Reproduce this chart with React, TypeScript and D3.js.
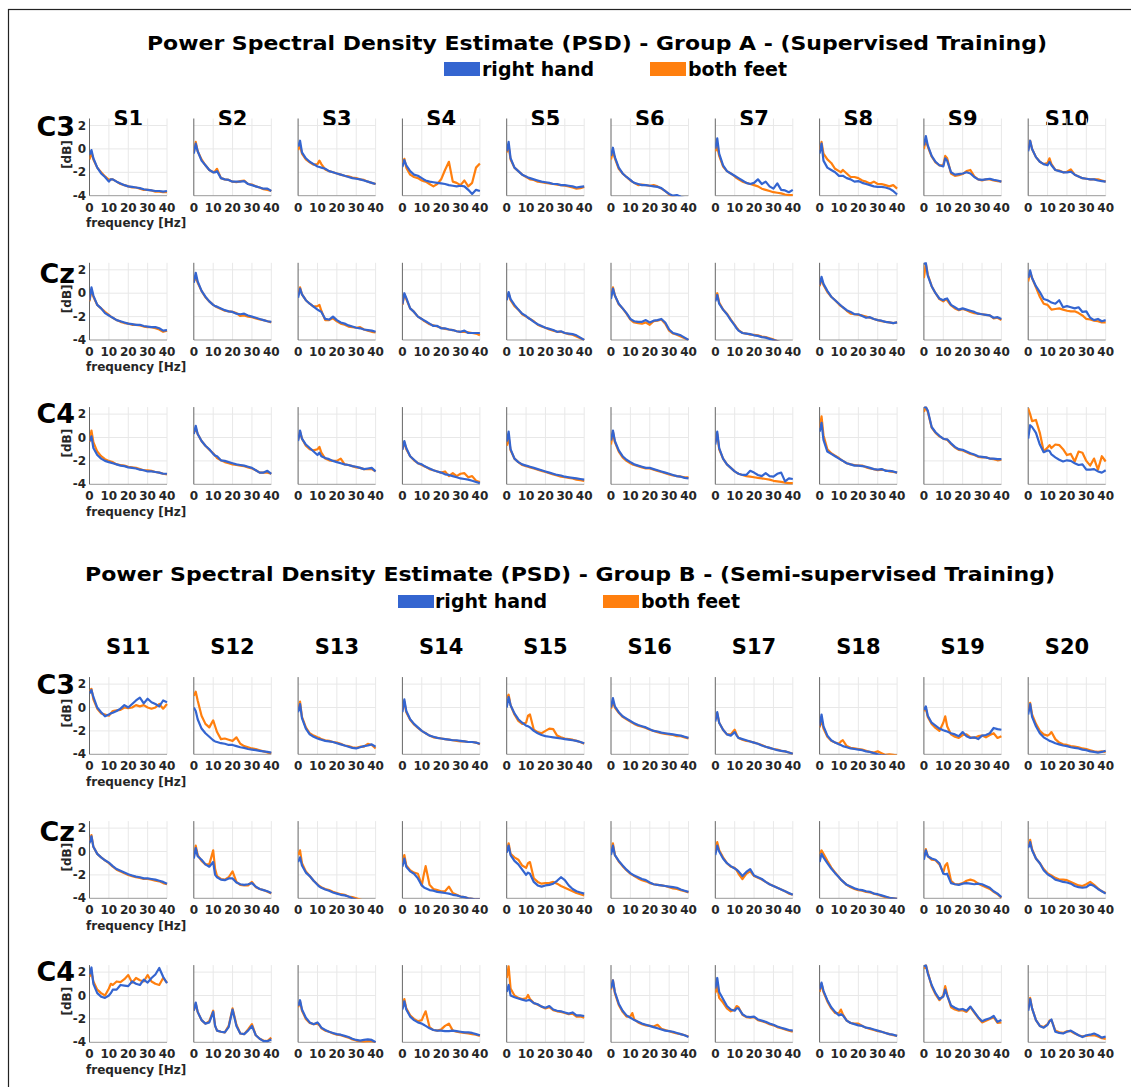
import React from 'react';
import * as d3 from 'd3';

// frequency grid (Hz) shared by every spectrum
const FREQS = [0, 1, 2, 4, 6, 8, 10, 11, 12, 14, 16, 18, 20, 22, 24, 26, 28, 30, 32, 34, 36, 38, 40];
const X_TICKS = [0, 10, 20, 30, 40];
const Y_TICKS = [-4, -2, 0, 2];
const CHANNELS = ['C3', 'Cz', 'C4'];
const SUBJECTS_A = ['S1', 'S2', 'S3', 'S4', 'S5', 'S6', 'S7', 'S8', 'S9', 'S10'];
const SUBJECTS_B = ['S11', 'S12', 'S13', 'S14', 'S15', 'S16', 'S17', 'S18', 'S19', 'S20'];
const CLASSES = ['right hand', 'both feet'];
const TITLE_A = 'Power Spectral Density Estimate (PSD) - Group A - (Supervised Training)';
const TITLE_B = 'Power Spectral Density Estimate (PSD) - Group B - (Semi-supervised Training)';

// ---- Group A ---- (one row per subject, values in dB at FREQS)
const A_C3_RH = [
  [-0.5, -0.1, -0.8, -1.6, -2.1, -2.4, -2.8, -2.6, -2.6, -2.8, -2.95, -3.1, -3.2, -3.25, -3.3, -3.35, -3.45, -3.5, -3.55, -3.6, -3.6, -3.65, -3.6],
  [-0.4, 0.45, -0.2, -1.0, -1.4, -1.8, -2.0, -2.0, -1.9, -2.5, -2.6, -2.65, -2.8, -2.8, -2.8, -2.75, -3.0, -3.1, -3.2, -3.3, -3.4, -3.4, -3.6],
  [0.2, 0.7, -0.3, -0.8, -1.1, -1.3, -1.5, -1.55, -1.6, -1.7, -1.9, -2.0, -2.1, -2.2, -2.3, -2.4, -2.5, -2.55, -2.6, -2.7, -2.8, -2.9, -3.0],
  [-1.55, -0.95, -1.4, -1.9, -2.2, -2.3, -2.5, -2.6, -2.7, -2.8, -2.85, -2.9, -2.95, -3.0, -3.1, -3.15, -3.2, -3.15, -3.2, -3.5, -3.85, -3.5, -3.6],
  [-0.2, 0.6, -0.8, -1.6, -1.9, -2.2, -2.35, -2.45, -2.5, -2.6, -2.7, -2.8, -2.85, -2.9, -3.0, -3.0, -3.1, -3.1, -3.15, -3.2, -3.3, -3.25, -3.2],
  [-0.6, 0.1, -0.7, -1.6, -2.1, -2.4, -2.65, -2.8, -2.9, -3.0, -3.1, -3.1, -3.15, -3.2, -3.25, -3.35, -3.6, -3.85, -4.0, -3.95, -4.1, -4.2, -4.2],
  [0.0, 0.9, -0.4, -1.4, -1.9, -2.1, -2.3, -2.4, -2.5, -2.7, -2.9, -3.0, -2.9, -2.6, -3.0, -2.8, -3.2, -3.4, -2.95, -3.5, -3.55, -3.7, -3.5],
  [-0.4, 0.45, -1.0, -1.6, -1.8, -2.0, -2.3, -2.3, -2.3, -2.5, -2.6, -2.8, -2.75, -2.9, -3.0, -3.1, -3.2, -3.25, -3.25, -3.3, -3.4, -3.6, -3.9],
  [0.3, 1.1, 0.3, -0.6, -1.1, -1.4, -1.5, -0.8, -1.0, -2.0, -2.2, -2.15, -2.1, -2.0, -2.1, -2.4, -2.6, -2.65, -2.6, -2.55, -2.65, -2.7, -2.8],
  [-0.2, 0.7, 0.0, -0.7, -1.1, -1.3, -1.4, -1.1, -1.4, -1.8, -1.9, -2.0, -2.0, -1.95, -2.2, -2.35, -2.5, -2.55, -2.6, -2.6, -2.7, -2.75, -2.8],
];
const A_C3_BF = [
  [-0.9, -0.3, -0.9, -1.6, -2.0, -2.35, -2.65, -2.6, -2.6, -2.8, -3.0, -3.1, -3.2, -3.3, -3.3, -3.4, -3.5, -3.5, -3.55, -3.65, -3.65, -3.7, -3.7],
  [-0.3, 0.6, -0.2, -0.9, -1.4, -1.8, -2.0, -1.9, -1.7, -2.5, -2.6, -2.65, -2.8, -2.85, -2.75, -2.7, -3.0, -3.05, -3.2, -3.3, -3.45, -3.5, -3.6],
  [-0.1, 0.3, -0.4, -0.9, -1.15, -1.35, -1.3, -1.0, -1.3, -1.75, -1.9, -2.0, -2.1, -2.2, -2.3, -2.35, -2.45, -2.5, -2.6, -2.65, -2.8, -2.9, -3.0],
  [-1.2, -0.85, -1.6, -2.2, -2.4, -2.5, -2.7, -2.75, -2.8, -3.0, -3.2, -3.0, -2.6, -1.8, -1.1, -2.8, -2.9, -3.1, -2.7, -3.2, -2.9, -1.6, -1.25],
  [-0.3, 0.2, -0.9, -1.6, -1.9, -2.2, -2.4, -2.5, -2.6, -2.65, -2.8, -2.85, -2.9, -2.95, -3.0, -3.05, -3.1, -3.15, -3.2, -3.3, -3.4, -3.35, -3.25],
  [-0.9, -0.2, -0.8, -1.7, -2.1, -2.4, -2.7, -2.8, -2.9, -3.1, -3.05, -3.1, -3.15, -3.1, -3.2, -3.4, -3.6, -3.9, -4.1, -4.2, -4.2, -4.2, -4.2],
  [-0.2, 0.2, -0.6, -1.5, -1.9, -2.1, -2.35, -2.5, -2.6, -2.8, -2.9, -3.0, -3.1, -3.2, -3.4, -3.5, -3.6, -3.7, -3.75, -3.8, -3.9, -3.95, -3.95],
  [-0.1, 0.6, -0.4, -0.9, -1.2, -1.7, -1.9, -2.0, -1.8, -2.1, -2.4, -2.4, -2.5, -2.7, -2.8, -2.95, -2.8, -3.0, -3.0, -3.1, -3.2, -3.1, -3.4],
  [0.0, 0.8, 0.2, -0.65, -1.15, -1.4, -1.4, -0.6, -0.8, -2.1, -2.3, -2.25, -2.15, -1.9, -1.8, -2.35, -2.6, -2.7, -2.6, -2.6, -2.7, -2.75, -2.8],
  [-0.1, 0.7, 0.0, -0.7, -1.1, -1.3, -1.2, -0.8, -1.3, -1.8, -1.85, -2.0, -1.95, -1.75, -2.2, -2.35, -2.5, -2.55, -2.6, -2.6, -2.6, -2.7, -2.8],
];
const A_CZ_RH = [
  [-0.6, 0.5, -0.2, -1.0, -1.3, -1.7, -1.9, -2.0, -2.1, -2.3, -2.4, -2.5, -2.6, -2.65, -2.7, -2.7, -2.8, -2.85, -2.9, -2.9, -3.0, -3.2, -3.15],
  [0.9, 1.75, 1.0, 0.2, -0.3, -0.7, -1.0, -1.1, -1.15, -1.3, -1.45, -1.55, -1.6, -1.75, -1.8, -1.75, -1.9, -2.0, -2.1, -2.2, -2.3, -2.4, -2.45],
  [-0.4, 0.4, -0.1, -0.6, -0.9, -1.15, -1.4, -1.5, -1.6, -2.2, -2.25, -2.0, -2.3, -2.5, -2.6, -2.75, -2.85, -2.95, -3.0, -3.1, -3.15, -3.2, -3.3],
  [-0.95, 0.0, -0.4, -1.3, -1.6, -2.0, -2.2, -2.3, -2.4, -2.6, -2.8, -2.8, -3.0, -3.0, -3.1, -3.15, -3.25, -3.3, -3.2, -3.4, -3.4, -3.4, -3.4],
  [-0.6, 0.1, -0.5, -1.0, -1.4, -1.75, -1.95, -2.1, -2.2, -2.45, -2.65, -2.8, -2.95, -3.05, -3.15, -3.3, -3.25, -3.4, -3.45, -3.5, -3.6, -3.8, -4.0],
  [-0.5, 0.4, -0.2, -0.9, -1.3, -1.7, -2.2, -2.3, -2.4, -2.45, -2.45, -2.3, -2.5, -2.35, -2.3, -2.2, -2.5, -3.1, -3.4, -3.5, -3.6, -3.8, -4.0],
  [-0.7, -0.15, -0.9, -1.4, -1.8, -2.3, -2.75, -3.0, -3.2, -3.4, -3.45, -3.5, -3.6, -3.65, -3.75, -3.8, -3.9, -4.0, -4.1, -4.2, -4.3, -4.3, -4.3],
  [0.7, 1.4, 0.8, 0.2, -0.3, -0.6, -0.9, -1.05, -1.2, -1.45, -1.6, -1.8, -1.8, -1.95, -2.1, -2.05, -2.2, -2.3, -2.35, -2.45, -2.5, -2.55, -2.5],
  [2.5, 2.6, 1.5, 0.6, 0.0, -0.45, -0.6, -0.5, -0.45, -1.0, -1.2, -1.4, -1.3, -1.4, -1.5, -1.6, -1.75, -1.8, -1.85, -1.9, -2.1, -2.05, -2.2],
  [1.3, 1.95, 1.3, 0.6, 0.1, -0.5, -0.6, -0.7, -0.8, -0.9, -0.6, -1.2, -1.1, -1.2, -1.3, -1.2, -1.6, -1.55, -2.1, -2.3, -2.2, -2.4, -2.3],
];
const A_CZ_BF = [
  [-0.7, 0.3, -0.3, -1.0, -1.3, -1.6, -1.85, -2.0, -2.1, -2.3, -2.45, -2.55, -2.6, -2.7, -2.7, -2.75, -2.85, -2.9, -2.9, -3.0, -3.1, -3.3, -3.2],
  [1.0, 1.4, 0.9, 0.2, -0.35, -0.7, -1.0, -1.1, -1.2, -1.35, -1.5, -1.55, -1.6, -1.7, -1.95, -1.9, -2.0, -2.05, -2.15, -2.25, -2.3, -2.4, -2.5],
  [-0.2, 0.5, -0.1, -0.6, -0.9, -1.15, -1.1, -1.0, -1.5, -2.3, -2.3, -2.15, -2.4, -2.6, -2.7, -2.85, -2.9, -2.95, -2.9, -3.1, -3.2, -3.3, -3.35],
  [-1.0, -0.1, -0.5, -1.3, -1.6, -2.0, -2.2, -2.35, -2.45, -2.65, -2.75, -2.85, -2.95, -3.05, -3.1, -3.15, -3.25, -3.3, -3.3, -3.35, -3.4, -3.45, -3.6],
  [-0.4, 0.0, -0.6, -1.1, -1.4, -1.8, -2.0, -2.1, -2.2, -2.4, -2.7, -2.85, -2.95, -3.1, -3.2, -3.3, -3.3, -3.4, -3.5, -3.55, -3.7, -3.85, -4.0],
  [-0.3, 0.5, -0.2, -0.95, -1.3, -1.75, -2.25, -2.4, -2.5, -2.55, -2.6, -2.5, -2.7, -2.4, -2.35, -2.25, -2.6, -3.2, -3.45, -3.55, -3.7, -3.85, -4.0],
  [-0.6, 0.0, -0.8, -1.4, -1.75, -2.25, -2.7, -2.95, -3.15, -3.4, -3.45, -3.55, -3.55, -3.6, -3.7, -3.75, -3.85, -3.95, -4.1, -4.2, -4.3, -4.3, -4.3],
  [0.6, 1.2, 0.7, 0.1, -0.3, -0.6, -0.95, -1.1, -1.2, -1.5, -1.75, -1.8, -1.85, -1.9, -2.0, -2.1, -2.2, -2.3, -2.4, -2.45, -2.5, -2.55, -2.5],
  [1.3, 2.5, 1.6, 0.6, 0.0, -0.5, -0.7, -0.55, -0.6, -1.05, -1.3, -1.45, -1.35, -1.45, -1.6, -1.7, -1.75, -1.8, -1.85, -1.9, -2.15, -2.1, -2.3],
  [1.0, 1.8, 1.3, 0.5, -0.3, -0.9, -1.0, -1.2, -1.4, -1.35, -1.3, -1.4, -1.5, -1.55, -1.55, -1.7, -1.9, -2.2, -2.25, -2.35, -2.4, -2.5, -2.5],
];
const A_C4_RH = [
  [-0.3, 0.1, -0.9, -1.5, -1.8, -2.0, -2.1, -2.15, -2.2, -2.3, -2.4, -2.45, -2.55, -2.6, -2.65, -2.75, -2.8, -2.9, -2.9, -2.95, -3.0, -3.1, -3.1],
  [0.3, 1.0, 0.3, -0.3, -0.7, -1.0, -1.4, -1.55, -1.6, -1.95, -2.0, -2.1, -2.2, -2.3, -2.35, -2.4, -2.5, -2.6, -2.8, -3.0, -3.0, -2.85, -3.1],
  [-0.3, 0.6, -0.1, -0.6, -0.9, -1.2, -1.5, -1.3, -1.6, -1.75, -1.85, -2.0, -2.1, -2.2, -2.3, -2.35, -2.45, -2.5, -2.6, -2.7, -2.65, -2.6, -2.9],
  [-1.05, -0.3, -0.9, -1.6, -1.9, -2.2, -2.3, -2.4, -2.5, -2.65, -2.8, -2.9, -3.0, -3.15, -3.2, -3.3, -3.4, -3.5, -3.55, -3.6, -3.7, -3.8, -3.9],
  [-0.35, 0.5, -1.0, -1.8, -2.1, -2.3, -2.4, -2.45, -2.5, -2.6, -2.7, -2.8, -2.9, -3.0, -3.1, -3.2, -3.25, -3.35, -3.4, -3.45, -3.5, -3.55, -3.6],
  [-0.25, 0.6, -0.3, -1.1, -1.6, -1.9, -2.1, -2.2, -2.3, -2.4, -2.5, -2.6, -2.6, -2.7, -2.8, -2.9, -3.0, -3.1, -3.2, -3.3, -3.35, -3.45, -3.5],
  [-0.6, 0.5, -0.9, -1.8, -2.3, -2.6, -2.9, -3.0, -3.1, -3.2, -3.2, -2.85, -3.0, -3.2, -3.3, -3.05, -3.3, -3.35, -3.1, -3.0, -3.75, -3.5, -3.55],
  [0.5, 1.25, -0.2, -1.2, -1.4, -1.6, -1.8, -1.9, -2.0, -2.2, -2.3, -2.4, -2.4, -2.45, -2.5, -2.6, -2.7, -2.75, -2.7, -2.85, -2.85, -2.9, -3.0],
  [2.6, 2.6, 2.3, 0.9, 0.45, 0.15, -0.1, -0.15, -0.15, -0.5, -0.8, -1.0, -1.05, -1.2, -1.35, -1.45, -1.6, -1.65, -1.7, -1.8, -1.8, -1.85, -1.85],
  [-0.1, 1.05, 0.9, 0.4, -0.6, -1.25, -1.1, -1.15, -1.45, -1.7, -1.9, -2.05, -1.95, -2.0, -2.2, -2.35, -2.3, -2.75, -2.75, -2.7, -2.9, -3.0, -2.8],
];
const A_C4_BF = [
  [-0.4, 0.6, -0.4, -1.2, -1.6, -1.85, -2.0, -2.05, -2.1, -2.3, -2.35, -2.4, -2.5, -2.55, -2.6, -2.7, -2.8, -2.8, -2.85, -2.95, -3.0, -3.1, -3.15],
  [0.4, 0.8, 0.3, -0.3, -0.7, -1.05, -1.35, -1.55, -1.75, -1.95, -2.1, -2.2, -2.3, -2.35, -2.4, -2.45, -2.55, -2.65, -2.8, -3.0, -3.0, -3.0, -3.1],
  [-0.2, 0.5, -0.1, -0.7, -1.0, -1.1, -1.0, -0.8, -1.3, -1.8, -1.95, -2.0, -2.0, -1.8, -2.3, -2.35, -2.45, -2.55, -2.6, -2.7, -2.7, -2.7, -2.9],
  [-1.0, -0.4, -1.0, -1.6, -1.95, -2.2, -2.35, -2.45, -2.5, -2.7, -2.8, -2.9, -3.0, -2.9, -3.3, -3.05, -3.3, -3.1, -3.05, -3.4, -3.3, -3.7, -3.8],
  [-0.7, 0.0, -1.1, -1.8, -2.1, -2.35, -2.45, -2.5, -2.55, -2.65, -2.75, -2.85, -2.95, -3.05, -3.15, -3.25, -3.35, -3.4, -3.45, -3.5, -3.6, -3.65, -3.7],
  [-0.6, 0.5, -0.4, -1.2, -1.7, -2.0, -2.2, -2.3, -2.35, -2.45, -2.55, -2.65, -2.65, -2.75, -2.85, -2.95, -3.05, -3.15, -3.25, -3.3, -3.35, -3.4, -3.4],
  [-0.4, 0.3, -1.0, -1.8, -2.3, -2.6, -2.9, -3.0, -3.1, -3.2, -3.3, -3.35, -3.4, -3.45, -3.5, -3.55, -3.6, -3.7, -3.75, -3.8, -3.85, -3.9, -3.9],
  [0.8, 1.8, 0.2, -1.0, -1.35, -1.55, -1.75, -1.9, -2.0, -2.2, -2.3, -2.35, -2.4, -2.4, -2.55, -2.65, -2.7, -2.8, -2.75, -2.8, -2.9, -2.95, -3.0],
  [2.2, 2.6, 2.2, 0.85, 0.4, 0.1, -0.1, -0.15, -0.2, -0.55, -0.85, -1.05, -1.1, -1.25, -1.4, -1.5, -1.65, -1.7, -1.7, -1.8, -1.85, -1.95, -1.9],
  [2.5, 2.0, 1.4, 1.5, 0.4, -1.2, -0.85, -0.65, -0.9, -0.6, -0.65, -1.0, -1.5, -1.4, -2.05, -1.2, -1.3, -2.0, -2.4, -1.8, -2.75, -1.6, -2.05],
];

// ---- Group B ----
const B_C3_RH = [
  [1.2, 1.5, 0.9, 0.0, -0.4, -0.75, -0.6, -0.5, -0.45, -0.3, -0.1, 0.2, 0.0, 0.3, 0.6, 0.85, 0.35, 0.75, 0.45, 0.3, 0.1, 0.6, 0.45],
  [0.0, -0.3, -1.0, -1.8, -2.2, -2.5, -2.8, -2.9, -2.95, -3.05, -3.1, -3.2, -3.2, -3.3, -3.4, -3.45, -3.55, -3.6, -3.65, -3.7, -3.75, -3.8, -3.85],
  [-0.4, 0.3, -0.9, -1.8, -2.3, -2.5, -2.65, -2.7, -2.75, -2.85, -2.9, -2.95, -3.05, -3.15, -3.25, -3.35, -3.45, -3.5, -3.4, -3.3, -3.25, -3.15, -3.35],
  [-0.4, 0.7, -0.3, -1.0, -1.4, -1.7, -2.0, -2.1, -2.2, -2.4, -2.5, -2.6, -2.65, -2.7, -2.75, -2.8, -2.8, -2.85, -2.9, -2.95, -2.95, -3.0, -3.1],
  [0.0, 0.9, 0.2, -0.5, -1.0, -1.3, -1.55, -1.6, -1.7, -2.0, -2.2, -2.35, -2.45, -2.5, -2.55, -2.6, -2.65, -2.7, -2.75, -2.8, -2.85, -2.95, -3.05],
  [0.0, 0.8, 0.1, -0.4, -0.75, -0.95, -1.15, -1.25, -1.35, -1.5, -1.6, -1.7, -1.85, -2.0, -2.05, -2.15, -2.2, -2.25, -2.3, -2.35, -2.4, -2.5, -2.6],
  [-1.2, -0.4, -1.3, -1.9, -2.3, -2.4, -2.1, -2.4, -2.6, -2.7, -2.8, -2.9, -3.0, -3.1, -3.25, -3.35, -3.45, -3.55, -3.65, -3.7, -3.75, -3.85, -3.95],
  [-1.6, -0.6, -1.6, -2.4, -2.8, -3.0, -3.15, -3.2, -3.3, -3.4, -3.5, -3.55, -3.6, -3.65, -3.75, -3.8, -3.9, -4.0, -4.1, -4.1, -4.15, -4.2, -4.2],
  [-0.2, 0.1, -0.7, -1.3, -1.55, -1.8, -1.95, -2.0, -2.05, -2.2, -2.3, -2.45, -2.1, -2.45, -2.6, -2.55, -2.7, -2.4, -2.35, -2.2, -1.75, -1.85, -1.9],
  [-0.6, 0.3, -0.8, -1.6, -2.2, -2.55, -2.75, -2.85, -2.9, -3.05, -3.15, -3.25, -3.3, -3.4, -3.45, -3.5, -3.6, -3.65, -3.75, -3.8, -3.85, -3.8, -3.7],
];
const B_C3_BF = [
  [1.4, 1.6, 0.7, -0.1, -0.5, -0.6, -0.7, -0.5, -0.3, -0.25, -0.2, 0.0, -0.05, 0.0, 0.2, 0.1, 0.2, 0.0, -0.1, 0.0, 0.3, -0.1, 0.3],
  [1.0, 1.35, 0.6, -0.7, -1.4, -1.7, -1.1, -1.6, -2.1, -2.7, -2.65, -2.75, -2.85, -2.55, -3.1, -3.3, -3.4, -3.5, -3.55, -3.65, -3.75, -3.85, -3.9],
  [-0.2, 0.5, -0.8, -1.7, -2.2, -2.4, -2.55, -2.6, -2.7, -2.8, -2.85, -2.95, -3.0, -3.1, -3.25, -3.3, -3.4, -3.45, -3.35, -3.35, -3.1, -3.2, -3.5],
  [-0.2, 0.5, -0.4, -1.05, -1.45, -1.75, -2.0, -2.1, -2.2, -2.4, -2.55, -2.6, -2.65, -2.7, -2.75, -2.8, -2.85, -2.9, -2.9, -2.95, -2.95, -3.0, -3.15],
  [0.8, 1.1, 0.2, -0.6, -1.15, -1.4, -1.3, -0.7, -0.6, -1.9, -2.1, -2.2, -2.0, -1.8, -1.85, -2.4, -2.55, -2.65, -2.7, -2.75, -2.85, -2.95, -3.1],
  [-0.1, 0.5, 0.0, -0.45, -0.8, -1.0, -1.2, -1.3, -1.4, -1.55, -1.65, -1.75, -1.9, -2.0, -2.1, -2.2, -2.25, -2.3, -2.35, -2.45, -2.45, -2.55, -2.65],
  [-1.0, -0.5, -1.3, -1.9, -2.3, -2.3, -1.9, -2.3, -2.6, -2.75, -2.85, -2.9, -3.0, -3.1, -3.2, -3.35, -3.45, -3.55, -3.6, -3.7, -3.75, -3.85, -3.95],
  [-1.7, -1.0, -1.8, -2.5, -2.85, -3.0, -3.1, -2.9, -2.8, -3.3, -3.45, -3.5, -3.55, -3.6, -3.7, -3.8, -3.85, -3.75, -3.9, -4.05, -4.0, -4.05, -4.1],
  [-0.3, -0.1, -0.8, -1.4, -1.75, -2.0, -1.3, -0.75, -1.6, -2.3, -2.5, -2.6, -2.35, -2.3, -2.55, -2.6, -2.45, -2.4, -2.55, -2.35, -2.2, -2.6, -2.45],
  [-0.3, 0.4, -0.6, -1.4, -2.0, -2.3, -2.4, -2.3, -2.1, -2.7, -3.0, -3.15, -3.2, -3.3, -3.35, -3.4, -3.5, -3.55, -3.65, -3.75, -3.8, -3.75, -3.8],
];
const B_CZ_RH = [
  [0.7, 1.3, 0.4, -0.2, -0.5, -0.75, -0.95, -1.1, -1.25, -1.5, -1.65, -1.8, -1.95, -2.05, -2.15, -2.2, -2.3, -2.3, -2.35, -2.4, -2.5, -2.6, -2.75],
  [-0.6, 0.3, -0.4, -0.7, -1.1, -1.3, -0.9, -2.0, -2.2, -2.4, -2.45, -2.3, -2.3, -2.65, -2.8, -2.85, -2.8, -2.7, -3.0, -3.2, -3.3, -3.4, -3.55],
  [-0.9, -0.5, -1.2, -1.8, -2.1, -2.5, -2.85, -3.0, -3.1, -3.25, -3.35, -3.5, -3.6, -3.7, -3.75, -3.85, -4.0, -4.1, -4.2, -4.2, -4.2, -4.2, -4.2],
  [-1.3, -0.6, -1.3, -1.7, -1.9, -2.3, -2.9, -3.05, -3.15, -3.3, -3.35, -3.45, -3.5, -3.55, -3.6, -3.7, -3.75, -3.85, -3.9, -4.0, -4.05, -4.1, -4.1],
  [-0.1, 0.5, -0.3, -0.8, -1.1, -1.55, -2.0, -1.8, -1.9, -2.6, -2.9, -3.0, -2.9, -2.85, -2.75, -2.5, -2.2, -2.45, -2.9, -3.2, -3.4, -3.5, -3.6],
  [-0.3, 0.5, -0.3, -0.8, -1.2, -1.55, -1.85, -1.95, -2.05, -2.2, -2.35, -2.45, -2.65, -2.8, -2.85, -2.9, -2.95, -3.0, -3.05, -3.1, -3.25, -3.35, -3.45],
  [-0.3, 0.5, 0.0, -0.6, -1.0, -1.25, -1.45, -1.55, -1.7, -2.1, -1.75, -1.5, -2.05, -2.2, -2.35, -2.6, -2.8, -2.95, -3.1, -3.25, -3.4, -3.55, -3.7],
  [-0.9, -0.2, -0.5, -1.0, -1.45, -1.85, -2.2, -2.4, -2.55, -2.85, -3.0, -3.15, -3.25, -3.3, -3.4, -3.45, -3.6, -3.65, -3.75, -3.85, -3.95, -4.0, -4.05],
  [-0.7, 0.1, -0.4, -0.6, -0.7, -1.0, -1.9, -1.95, -1.9, -2.7, -2.8, -2.85, -2.75, -2.7, -2.75, -2.8, -2.75, -2.8, -2.95, -3.1, -3.4, -3.6, -3.9],
  [0.3, 0.8, 0.1, -0.6, -1.0, -1.6, -1.95, -2.05, -2.15, -2.4, -2.5, -2.6, -2.65, -2.75, -2.95, -3.05, -3.1, -3.05, -2.8, -2.95, -3.2, -3.4, -3.6],
];
const B_CZ_BF = [
  [0.9, 1.4, 0.4, -0.2, -0.5, -0.75, -1.0, -1.15, -1.3, -1.55, -1.7, -1.85, -2.0, -2.1, -2.2, -2.25, -2.35, -2.35, -2.4, -2.5, -2.55, -2.7, -2.8],
  [-0.4, 0.5, -0.3, -0.8, -1.1, -1.1, 0.1, -1.5, -2.1, -2.35, -2.4, -2.2, -1.7, -2.6, -2.85, -2.9, -2.9, -2.6, -3.05, -3.2, -3.3, -3.45, -3.6],
  [-0.3, 0.1, -1.0, -1.7, -2.1, -2.5, -2.8, -2.95, -3.05, -3.2, -3.3, -3.45, -3.55, -3.65, -3.7, -3.85, -3.9, -4.0, -4.1, -4.2, -4.2, -4.2, -4.2],
  [-1.0, -0.3, -1.2, -1.6, -1.8, -1.9, -2.9, -2.0, -1.25, -2.85, -3.2, -3.3, -3.4, -3.4, -3.0, -3.55, -3.7, -3.85, -3.9, -4.0, -4.05, -4.1, -4.1],
  [0.0, 0.7, -0.2, -0.5, -0.7, -1.2, -1.4, -1.0, -0.9, -2.3, -2.6, -2.75, -2.7, -2.7, -2.6, -2.75, -2.95, -3.1, -3.25, -3.4, -3.55, -3.65, -3.75],
  [-0.2, 0.7, -0.3, -0.85, -1.25, -1.6, -1.9, -2.0, -2.1, -2.3, -2.45, -2.55, -2.7, -2.8, -2.85, -2.9, -2.95, -3.05, -3.15, -3.2, -3.3, -3.4, -3.5],
  [0.0, 0.8, 0.1, -0.5, -1.0, -1.3, -1.4, -1.6, -1.9, -2.35, -1.9, -1.7, -2.1, -2.25, -2.4, -2.6, -2.8, -2.95, -3.1, -3.25, -3.4, -3.6, -3.7],
  [-0.2, 0.1, -0.2, -0.8, -1.35, -1.8, -2.2, -2.4, -2.55, -2.85, -3.05, -3.2, -3.3, -3.35, -3.45, -3.5, -3.6, -3.7, -3.8, -3.9, -3.95, -4.0, -4.05],
  [-0.4, 0.2, -0.4, -0.7, -0.75, -1.1, -1.8, -1.2, -1.0, -2.5, -2.8, -2.8, -2.7, -2.5, -2.4, -2.5, -2.75, -2.9, -3.05, -3.2, -3.45, -3.65, -3.95],
  [0.5, 1.0, 0.2, -0.6, -1.0, -1.5, -1.85, -1.95, -2.05, -2.25, -2.4, -2.4, -2.45, -2.6, -2.75, -2.9, -2.95, -2.8, -2.6, -2.85, -3.15, -3.4, -3.55],
];
const B_C4_RH = [
  [1.8, 2.4, 1.0, 0.2, -0.1, -0.2, 0.0, 0.2, 0.5, 0.5, 0.9, 0.85, 0.8, 1.2, 1.0, 0.9, 1.35, 1.1, 1.5, 1.8, 2.35, 1.6, 1.05],
  [-1.3, -0.6, -1.4, -2.1, -2.4, -2.3, -1.4, -2.6, -3.0, -3.1, -3.15, -2.7, -1.2, -2.6, -3.25, -3.3, -3.0, -2.6, -3.4, -3.7, -3.9, -3.9, -3.75],
  [-0.9, -0.4, -1.2, -1.9, -2.3, -2.45, -2.3, -2.5, -2.75, -2.95, -3.1, -3.2, -3.3, -3.35, -3.45, -3.55, -3.7, -3.8, -3.85, -3.8, -3.75, -3.8, -4.0],
  [-1.2, -0.5, -1.2, -1.8, -2.1, -2.3, -2.4, -2.5, -2.6, -2.8, -2.95, -3.0, -3.0, -3.05, -3.05, -3.0, -3.05, -3.1, -3.15, -3.15, -3.2, -3.3, -3.4],
  [0.3, 0.9, 0.0, -0.15, -0.25, -0.35, -0.45, -0.4, -0.4, -0.65, -0.75, -0.95, -1.05, -0.9, -1.2, -1.3, -1.35, -1.45, -1.55, -1.45, -1.7, -1.7, -1.75],
  [0.6, 1.3, 0.3, -0.7, -1.3, -1.7, -1.9, -2.0, -2.1, -2.25, -2.4, -2.5, -2.6, -2.7, -2.8, -2.9, -3.0, -3.05, -3.1, -3.2, -3.3, -3.4, -3.55],
  [0.6, 1.5, 0.3, -0.3, -0.9, -1.2, -1.3, -1.1, -1.1, -1.6, -1.8, -1.85, -1.8, -2.05, -2.15, -2.25, -2.4, -2.5, -2.65, -2.75, -2.85, -2.95, -3.0],
  [0.5, 1.1, 0.4, -0.4, -1.0, -1.4, -1.7, -1.6, -1.7, -2.15, -2.35, -2.45, -2.55, -2.6, -2.75, -2.8, -2.9, -3.0, -3.1, -3.2, -3.3, -3.35, -3.45],
  [2.5, 2.6, 1.9, 0.9, 0.2, -0.3, -0.1, 0.5, 0.0, -0.85, -1.05, -1.2, -1.15, -1.3, -0.95, -1.4, -1.85, -2.2, -2.05, -1.95, -1.75, -2.25, -2.1],
  [-1.3, -0.3, -1.1, -2.1, -2.6, -2.75, -2.5, -2.2, -2.05, -3.1, -3.2, -3.25, -3.1, -3.0, -3.2, -3.4, -3.55, -3.4, -3.35, -3.25, -3.4, -3.6, -3.5],
];
const B_C4_BF = [
  [1.6, 2.0, 1.2, 0.5, 0.2, 0.0, 0.6, 1.0, 0.9, 1.2, 1.15, 1.4, 1.75, 1.1, 1.5, 1.3, 1.2, 1.75, 1.2, 1.0, 0.9, 1.5, 1.1],
  [-1.3, -0.7, -1.4, -2.1, -2.4, -2.2, -1.3, -2.6, -3.0, -3.1, -3.15, -2.6, -1.1, -2.5, -3.25, -3.3, -2.9, -2.45, -3.4, -3.7, -3.85, -3.9, -3.6],
  [-1.0, -0.5, -1.3, -2.0, -2.35, -2.45, -2.4, -2.55, -2.8, -3.0, -3.1, -3.25, -3.35, -3.4, -3.5, -3.6, -3.75, -3.85, -3.9, -3.95, -3.9, -3.9, -4.0],
  [-1.1, -0.3, -1.1, -1.7, -2.0, -2.2, -2.1, -1.7, -1.35, -2.7, -2.95, -3.0, -2.9, -2.6, -2.4, -3.0, -3.1, -3.15, -3.2, -3.25, -3.3, -3.35, -3.45],
  [1.5, 2.5, 0.6, 0.0, -0.2, -0.3, -0.25, 0.05, -0.3, -0.65, -0.8, -0.95, -1.1, -1.0, -1.25, -1.35, -1.4, -1.5, -1.6, -1.55, -1.8, -1.8, -1.9],
  [0.5, 1.3, 0.2, -0.8, -1.4, -1.8, -1.8, -1.5, -2.05, -2.3, -2.45, -2.55, -2.6, -2.65, -2.5, -2.85, -2.95, -3.05, -3.15, -3.25, -3.3, -3.4, -3.5],
  [0.2, 0.8, -0.2, -0.6, -1.1, -1.35, -1.2, -0.9, -1.0, -1.65, -1.85, -1.9, -1.85, -2.1, -2.2, -2.3, -2.45, -2.55, -2.7, -2.8, -2.9, -3.0, -3.1],
  [0.3, 1.0, 0.3, -0.5, -1.1, -1.5, -1.5, -1.2, -1.6, -2.15, -2.35, -2.4, -2.4, -2.6, -2.75, -2.85, -2.95, -3.05, -3.1, -3.2, -3.3, -3.4, -3.45],
  [2.3, 2.6, 2.0, 0.8, 0.1, -0.4, 0.0, 0.8, 0.1, -1.0, -1.2, -1.3, -1.25, -1.4, -1.0, -1.45, -1.9, -2.3, -2.15, -2.0, -1.85, -2.35, -2.3],
  [-1.2, -0.2, -1.1, -2.1, -2.6, -2.7, -2.45, -2.15, -2.1, -3.0, -3.15, -3.2, -3.05, -3.05, -3.25, -3.4, -3.5, -3.45, -3.4, -3.4, -3.5, -3.65, -3.7],
];

const BLUE = '#3465d0';
const ORANGE = '#ff7f0e';
const FONT = '"DejaVu Sans", Verdana, sans-serif';

const COL_X0 = 89.5;
const COL_STEP = 104.3;
const PANEL_W = 77.5;
const PANEL_H = 77.2;
const LABEL_DY = [17, 20, 15.5]; // baseline of C3/Cz/C4 below panel top

const groups = [
  {
    key: 'A', title: TITLE_A, titleX: 597, titleY: 49.5, titleLen: 900,
    legend: { y: 62, h: 14, base: 76, b: 444, bt: 482, o: 650, ot: 688 },
    subjects: SUBJECTS_A, subjY: 125.5, bottoms: [195.7, 340, 484.3],
    rh: [A_C3_RH, A_CZ_RH, A_C4_RH], bf: [A_C3_BF, A_CZ_BF, A_C4_BF],
  },
  {
    key: 'B', title: TITLE_B, titleX: 570, titleY: 581, titleLen: 970,
    legend: { y: 595, h: 13, base: 608, b: 398, bt: 435, o: 603, ot: 641 },
    subjects: SUBJECTS_B, subjY: 653.5, bottoms: [754.3, 898.3, 1042.3],
    rh: [B_C3_RH, B_CZ_RH, B_C4_RH], bf: [B_C3_BF, B_CZ_BF, B_C4_BF],
  },
];

export default function App() {
  const x = d3.scaleLinear().domain([0, 40]).range([0, PANEL_W]);
  const y = d3.scaleLinear().domain([-4, 2.6]).range([PANEL_H, 0]);
  const line = d3.line<number>().x((_, i) => x(FREQS[i])).y((d) => y(d));

  return (
    <svg width={1131} height={1087} style={{ position: 'absolute', left: 0, top: 0, background: '#fff' }}
      fontFamily={FONT}>
      <defs>
        <clipPath id="plot">
          <rect x={0} y={-0.5} width={PANEL_W + 1} height={PANEL_H + 1} />
        </clipPath>
      </defs>
      <rect x={0} y={0} width={1131} height={1087} fill="#fff" />
      <rect x={8.5} y={9.5} width={1140} height={1100} fill="none" stroke="#222" strokeWidth={1.2} />

      {groups.map((g) => (
        <g key={g.key}>
          <text x={g.titleX} y={g.titleY} textAnchor="middle" fontSize={20} fontWeight="bold"
            textLength={g.titleLen} lengthAdjust="spacingAndGlyphs" fill="#000">{g.title}</text>
          <rect x={g.legend.b} y={g.legend.y} width={36} height={g.legend.h} fill={BLUE} />
          <text x={g.legend.bt} y={g.legend.base} fontSize={19} fontWeight="bold" fill="#000">{CLASSES[0]}</text>
          <rect x={g.legend.o} y={g.legend.y} width={36} height={g.legend.h} fill={ORANGE} />
          <text x={g.legend.ot} y={g.legend.base} fontSize={19} fontWeight="bold" fill="#000">{CLASSES[1]}</text>

          {g.subjects.map((s, c) => (
            <text key={s} x={COL_X0 + c * COL_STEP + PANEL_W / 2} y={g.subjY} textAnchor="middle"
              fontSize={21} fontWeight="bold" fill="#000">{s}</text>
          ))}

          {CHANNELS.map((ch, r) => {
            const top = g.bottoms[r] - PANEL_H;
            return (
              <g key={ch}>
                <text x={75} y={top + LABEL_DY[r]} textAnchor="end" fontSize={27} fontWeight="bold"
                  fill="#000">{ch}</text>
                {g.subjects.map((s, c) => {
                  const left = COL_X0 + c * COL_STEP;
                  return (
                    <g key={s} transform={`translate(${left},${top})`}>
                      {X_TICKS.filter((t) => t > 0).map((t) => (
                        <line key={'gx' + t} x1={x(t)} x2={x(t)} y1={0} y2={PANEL_H} stroke="#e8e8e8" />
                      ))}
                      {Y_TICKS.filter((t) => t > -4).map((t) => (
                        <line key={'gy' + t} x1={0} x2={PANEL_W} y1={y(t)} y2={y(t)} stroke="#e8e8e8" />
                      ))}
                      <line x1={0} x2={PANEL_W} y1={PANEL_H} y2={PANEL_H} stroke="#9a9a9a" />
                      <line x1={0} x2={0} y1={0} y2={PANEL_H} stroke="#666" />
                      <g clipPath="url(#plot)">
                        <path d={line(g.bf[r][c]) || ''} fill="none" stroke={ORANGE} strokeWidth={2.2}
                          strokeLinejoin="round" />
                        <path d={line(g.rh[r][c]) || ''} fill="none" stroke={BLUE} strokeWidth={2.2}
                          strokeLinejoin="round" />
                      </g>
                      {X_TICKS.map((t) => (
                        <text key={'tx' + t} x={x(t)} y={PANEL_H + 16} textAnchor="middle" fontSize={12}
                          fontWeight="bold" fill="#262626">{t}</text>
                      ))}
                      {c === 0 && (
                        <g>
                          {Y_TICKS.map((t) => (
                            <text key={'ty' + t} x={-3.5} y={y(t) + 4} textAnchor="end" fontSize={12}
                              fontWeight="bold" fill="#262626">{t}</text>
                          ))}
                          <text transform={`translate(${-19},${36}) rotate(-90)`} textAnchor="middle"
                            fontSize={12} fontWeight="bold" fill="#262626">[dB]</text>
                          <text x={-3.5} y={PANEL_H + 31.5} fontSize={12} fontWeight="bold"
                            fill="#262626">frequency [Hz]</text>
                        </g>
                      )}
                    </g>
                  );
                })}
              </g>
            );
          })}
        </g>
      ))}
    </svg>
  );
}
